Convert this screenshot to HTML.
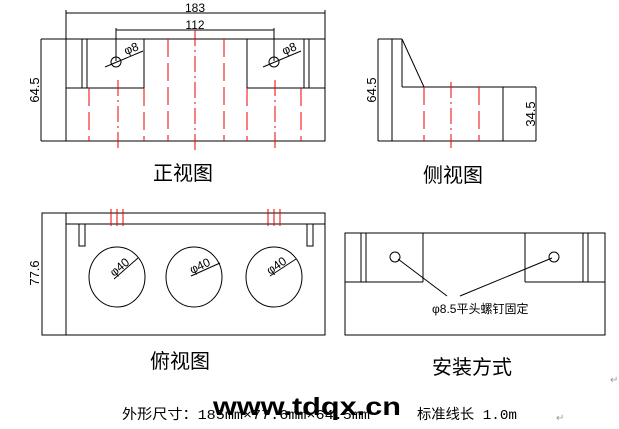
<!DOCTYPE html>
<html><head><meta charset="utf-8"><style>
html,body{margin:0;padding:0;background:#fff;width:619px;height:429px;overflow:hidden}
svg{display:block}
text{font-family:"Liberation Sans","Noto Sans CJK SC",sans-serif}
</style></head><body>
<svg width="619" height="429" viewBox="0 0 619 429" xmlns="http://www.w3.org/2000/svg">
<g stroke="#000" stroke-width="1" fill="none" shape-rendering="crispEdges">
<rect x="66" y="39" width="259" height="102"/>
<line x1="41" y1="39" x2="66" y2="39"/><line x1="41" y1="141" x2="66" y2="141"/>
<line x1="41" y1="39" x2="41" y2="141"/>
<line x1="66" y1="13" x2="325" y2="13"/>
<line x1="66" y1="10" x2="66" y2="39"/><line x1="325" y1="10" x2="325" y2="39"/>
<line x1="116" y1="30" x2="274" y2="30"/>
<line x1="116" y1="28" x2="116" y2="61"/><line x1="274" y1="28" x2="274" y2="61"/>
<line x1="82" y1="39" x2="82" y2="88"/><line x1="87" y1="39" x2="87" y2="88"/><line x1="144" y1="39" x2="144" y2="88"/>
<line x1="247" y1="39" x2="247" y2="88"/><line x1="304" y1="39" x2="304" y2="88"/><line x1="309" y1="39" x2="309" y2="88"/>
<line x1="66" y1="88" x2="144" y2="88"/><line x1="247" y1="88" x2="325" y2="88"/>
</g>
<g stroke="#000" fill="none">
<circle cx="116" cy="62" r="5"/><circle cx="274" cy="62" r="5"/>
<line x1="105" y1="67" x2="143" y2="51"/><line x1="263" y1="67" x2="301" y2="51"/>
</g>
<g stroke="#e00" stroke-width="1" fill="none" shape-rendering="crispEdges">
<g stroke-dasharray="18,6"><line x1="89" y1="88" x2="89" y2="141"/><line x1="144" y1="88" x2="144" y2="141"/>
<line x1="168" y1="39" x2="168" y2="141"/><line x1="224" y1="39" x2="224" y2="141"/>
<line x1="247" y1="88" x2="247" y2="141"/><line x1="301" y1="88" x2="301" y2="141"/></g>
<g stroke-dasharray="16,4,2,4"><line x1="118" y1="80" x2="118" y2="148"/><line x1="195" y1="30" x2="195" y2="150"/><line x1="275" y1="80" x2="275" y2="148"/></g>
</g>
<text x="126" y="55" font-size="12" transform="rotate(-22 126 55)">φ8</text>
<text x="284" y="55" font-size="12" transform="rotate(-22 284 55)">φ8</text>
<text x="195" y="12" font-size="12" text-anchor="middle">183</text>
<text x="195" y="29" font-size="12" text-anchor="middle">112</text>
<text x="0" y="0" font-size="13" text-anchor="middle" transform="translate(39 90) rotate(-90)">64.5</text>
<text x="183" y="180" font-size="20" text-anchor="middle">正视图</text>
<g stroke="#000" fill="none" shape-rendering="crispEdges">
<line x1="378" y1="39" x2="402" y2="39"/><line x1="378" y1="39" x2="378" y2="141"/>
<line x1="392" y1="39" x2="392" y2="141"/><line x1="402" y1="39" x2="402" y2="87"/>
<line x1="402" y1="87" x2="536" y2="87"/><line x1="503" y1="87" x2="503" y2="141"/>
<line x1="378" y1="141" x2="536" y2="141"/><line x1="536" y1="87" x2="536" y2="141"/>
</g>
<line x1="402" y1="39" x2="424" y2="87" stroke="#000"/>
<g stroke="#e00" fill="none" shape-rendering="crispEdges">
<line x1="424" y1="87" x2="424" y2="141" stroke-dasharray="18,6"/><line x1="479" y1="87" x2="479" y2="141" stroke-dasharray="18,6"/>
<line x1="451" y1="82" x2="451" y2="148" stroke-dasharray="16,4,2,4"/>
</g>
<text font-size="13" text-anchor="middle" transform="translate(376 90) rotate(-90)">64.5</text>
<text font-size="13" text-anchor="middle" transform="translate(535 114) rotate(-90)">34.5</text>
<text x="453" y="182" font-size="20" text-anchor="middle">侧视图</text>
<g stroke="#000" fill="none" shape-rendering="crispEdges">
<rect x="42" y="213" width="283" height="122"/>
<line x1="66" y1="213" x2="66" y2="335"/><line x1="66" y1="224" x2="325" y2="224"/>
<rect x="79" y="224" width="6" height="22"/><rect x="307" y="224" width="6" height="22"/>
</g>
<g stroke="#e00" shape-rendering="crispEdges">
<line x1="111" y1="209" x2="111" y2="226"/><line x1="117" y1="209" x2="117" y2="226"/><line x1="123" y1="209" x2="123" y2="226"/>
<line x1="268" y1="209" x2="268" y2="226"/><line x1="274" y1="209" x2="274" y2="226"/><line x1="280" y1="209" x2="280" y2="226"/>
</g>
<g stroke="#000" fill="none">
<ellipse cx="117" cy="277" rx="28" ry="30"/><ellipse cx="194" cy="277" rx="28" ry="30"/><ellipse cx="274" cy="277" rx="28" ry="30"/>
<line x1="114" y1="279" x2="138" y2="258"/><line x1="191" y1="276" x2="220" y2="263"/><line x1="270" y1="276" x2="296" y2="259"/>
</g>
<text font-size="12" transform="translate(114 277) rotate(-40)">φ40</text>
<text font-size="12" transform="translate(192 274) rotate(-25)">φ40</text>
<text font-size="12" transform="translate(270 275) rotate(-35)">φ40</text>
<text font-size="13" text-anchor="middle" transform="translate(39 273) rotate(-90)">77.6</text>
<text x="180" y="368" font-size="20" text-anchor="middle">俯视图</text>
<g stroke="#000" fill="none" shape-rendering="crispEdges">
<rect x="345" y="233" width="260" height="102"/>
<line x1="345" y1="282" x2="423" y2="282"/><line x1="525" y1="282" x2="605" y2="282"/>
<line x1="361" y1="233" x2="361" y2="282"/><line x1="366" y1="233" x2="366" y2="282"/><line x1="423" y1="233" x2="423" y2="282"/>
<line x1="525" y1="233" x2="525" y2="282"/><line x1="583" y1="233" x2="583" y2="282"/><line x1="588" y1="233" x2="588" y2="282"/>
</g>
<g stroke="#000" fill="none">
<circle cx="395" cy="257" r="5"/><circle cx="554" cy="257" r="5"/>
<line x1="398" y1="259" x2="447" y2="296"/><line x1="460" y1="296" x2="552" y2="258"/>
</g>
<text x="432" y="313" font-size="12">φ8.5平头螺钉固定</text>
<text x="472" y="374" font-size="20" text-anchor="middle">安装方式</text>
<text x="122" y="419" font-size="14" style="font-family:'Liberation Mono','Noto Sans CJK SC',monospace" textLength="248" lengthAdjust="spacingAndGlyphs">外形尺寸：185mm×77.6mm×64.5mm</text>
<text x="213" y="415" font-size="25" font-weight="bold" textLength="188" lengthAdjust="spacingAndGlyphs">www.tdqx.cn</text>
<text x="417" y="419" font-size="14" style="font-family:'Liberation Mono','Noto Sans CJK SC',monospace" textLength="100" lengthAdjust="spacingAndGlyphs">标准线长 1.0m</text>
<text x="556" y="421" font-size="10" fill="#999">↵</text>
<text x="610" y="383" font-size="10" fill="#999">↵</text>
</svg>
</body></html>
